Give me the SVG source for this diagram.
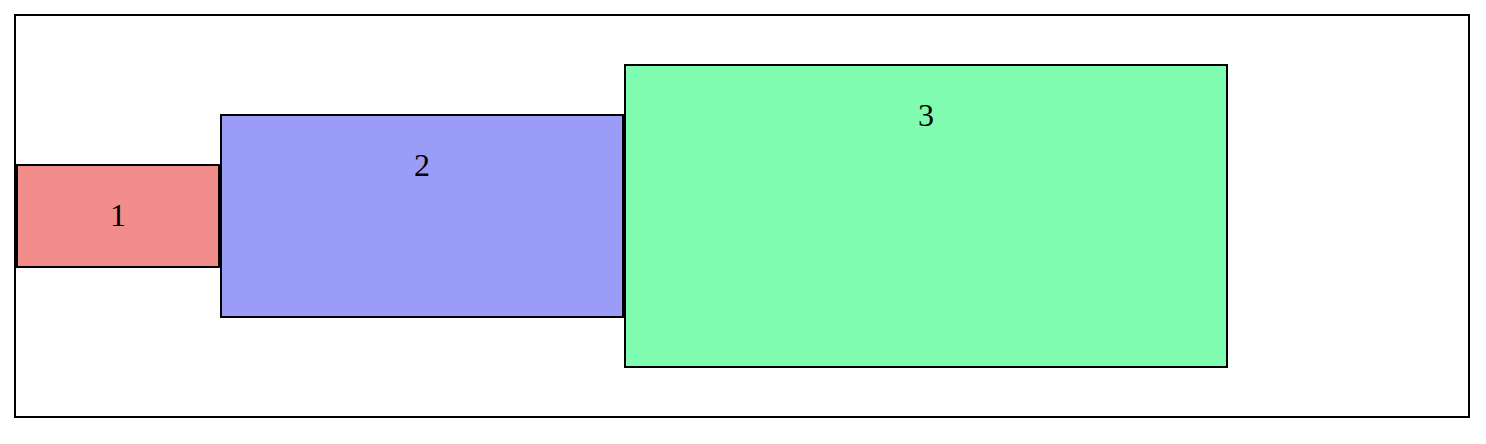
<svg xmlns="http://www.w3.org/2000/svg" width="1486" height="444" viewBox="0 0 1486 444">
<style>
rect{stroke:#000;stroke-width:2}
text{font-family:"Liberation Serif","Times New Roman",serif;font-size:32px;fill:#000;text-anchor:middle}
</style>
<rect id="frame" x="15" y="15" width="1454" height="402" fill="#fff"/>
<g id="connectors"></g>
<g id="node1"><rect x="17" y="165" width="202" height="102" fill="#f18d8b"/><text x="118" y="226">1</text></g>
<g id="node2"><rect x="221" y="115" width="402" height="202" fill="#9a9cf8"/><text x="422" y="176">2</text></g>
<g id="node3"><rect x="625" y="65" width="602" height="302" fill="#80fcb1"/><text x="926" y="126">3</text></g>
</svg>
